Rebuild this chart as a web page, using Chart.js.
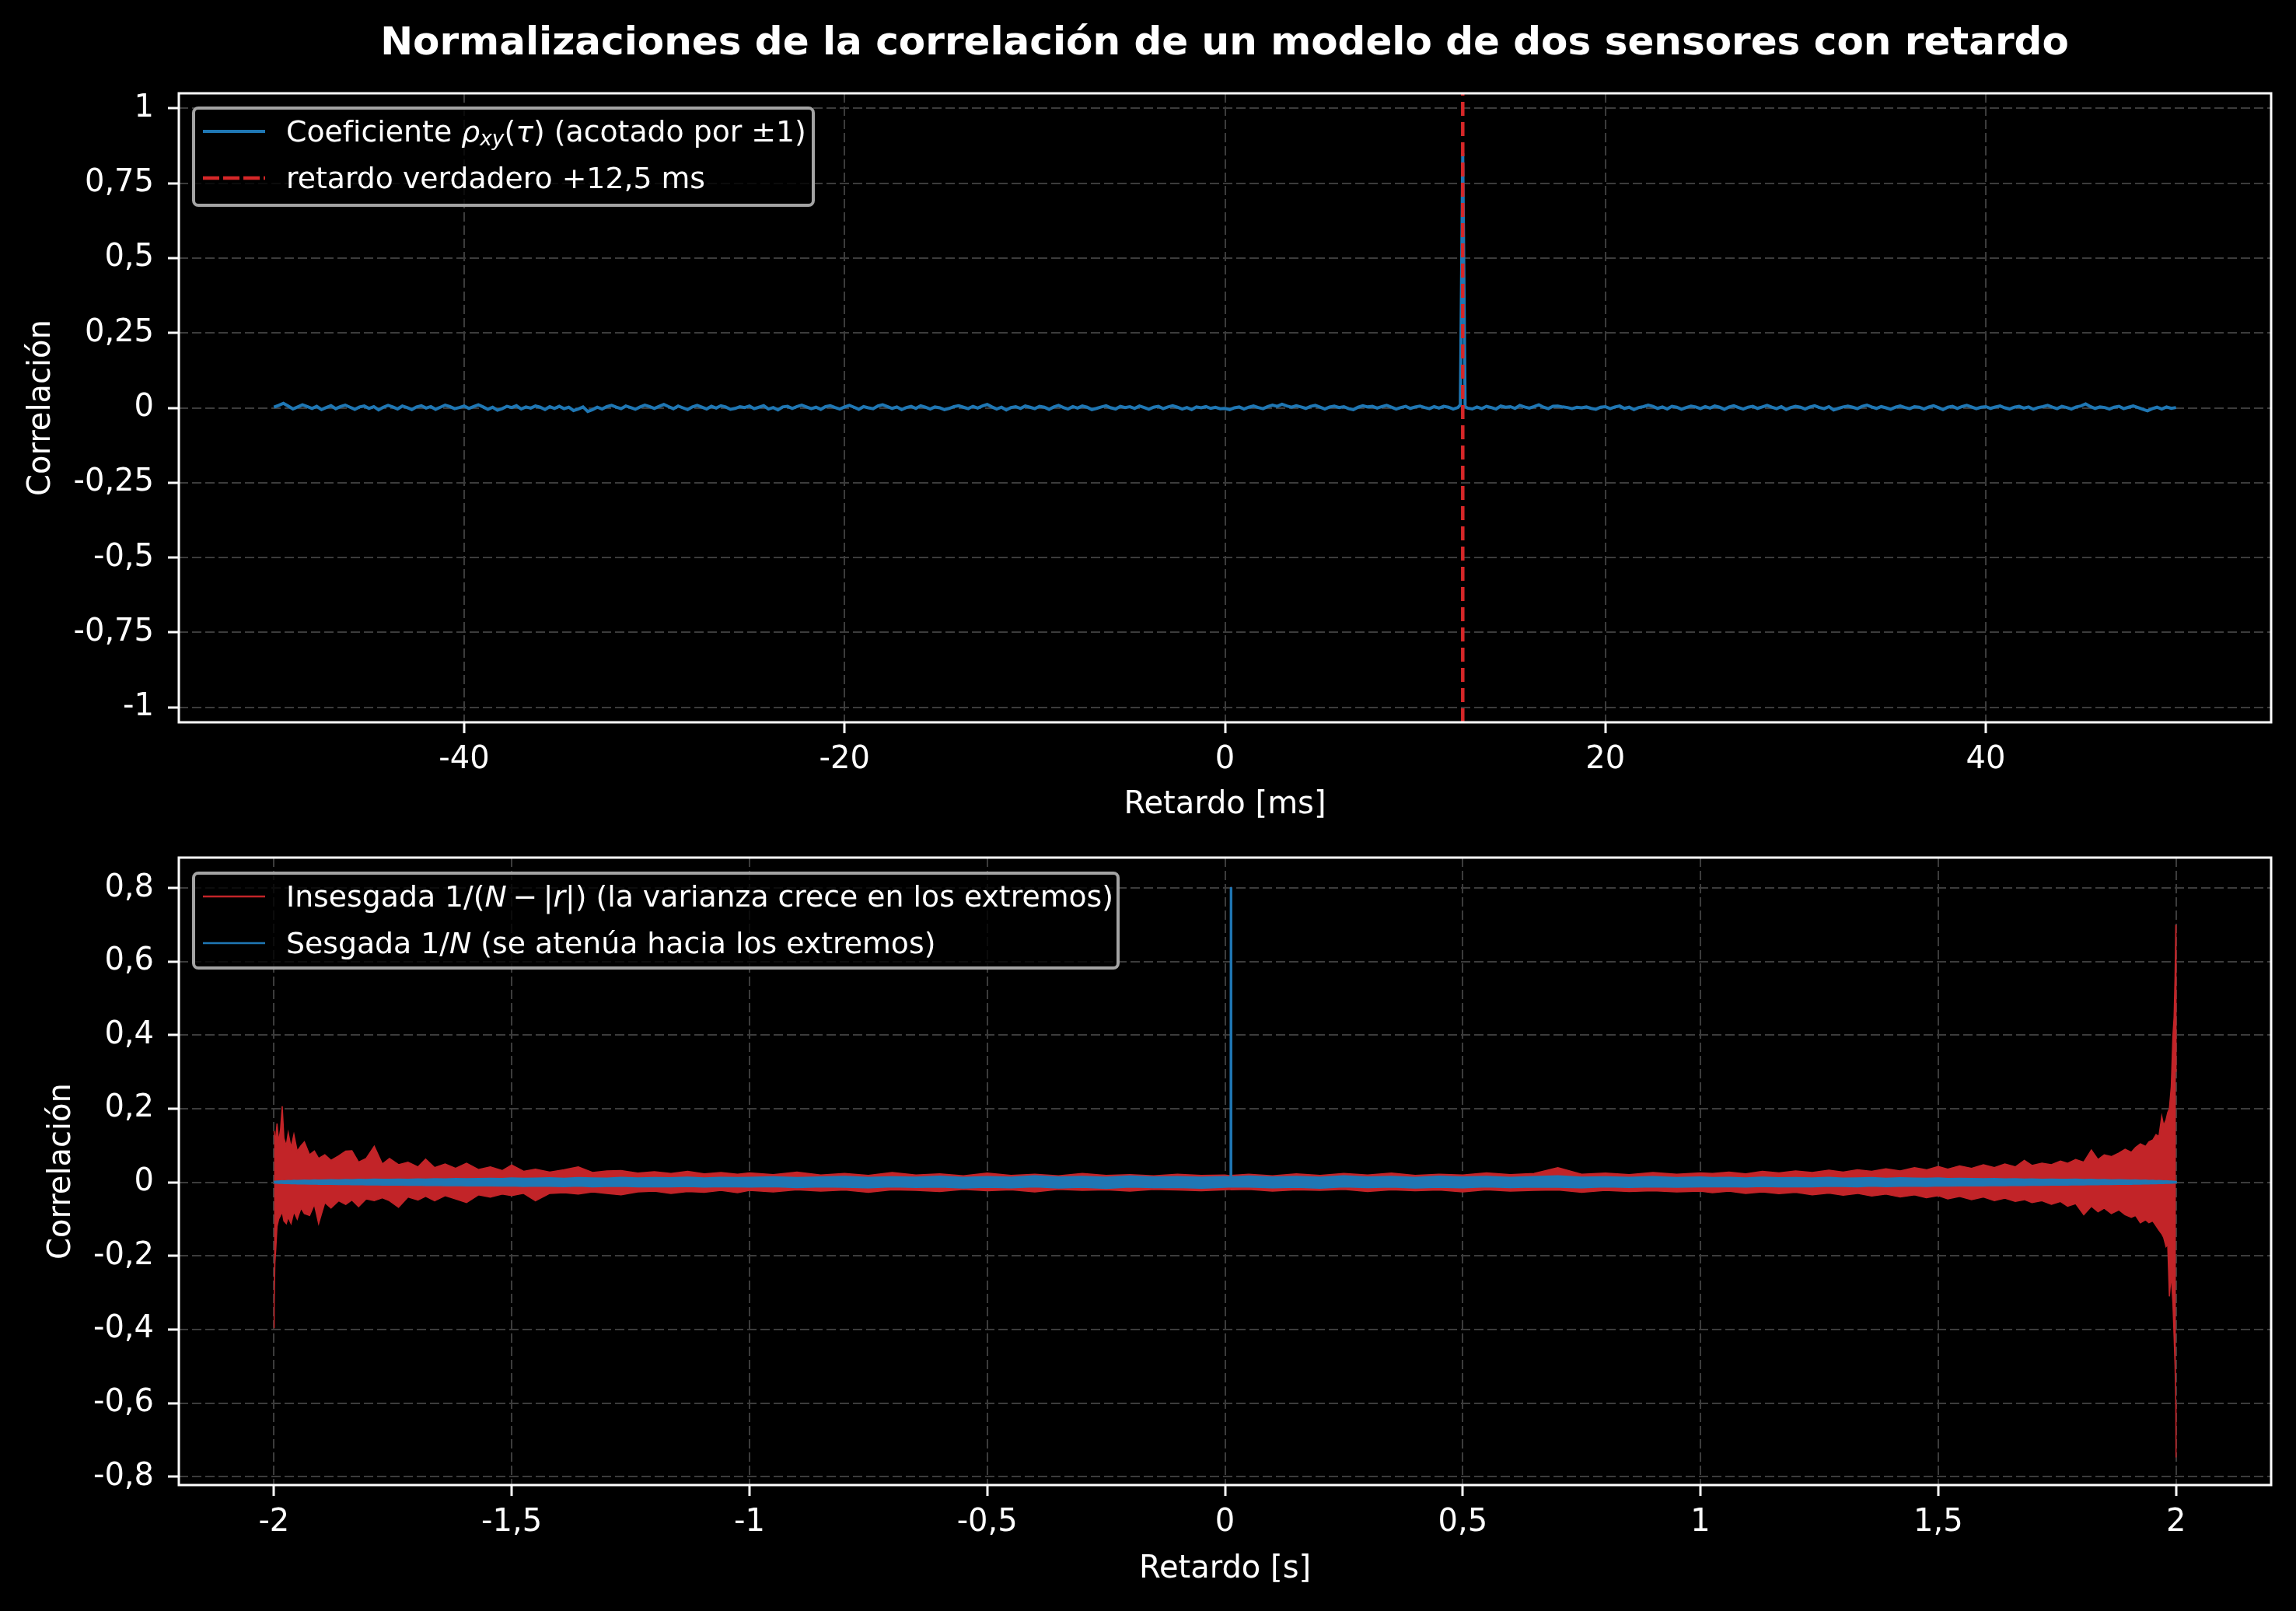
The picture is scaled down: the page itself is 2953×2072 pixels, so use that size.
<!DOCTYPE html>
<html lang="es">
<head>
<meta charset="utf-8">
<title>Normalizaciones de la correlación</title>
<script src="https://cdn.jsdelivr.net/npm/chart.js@4.4.1/dist/chart.umd.min.js"></script>
<style>
    html, body { margin: 0; padding: 0; background: #000; }
    body { position: relative; width: 2953px; height: 2072px; overflow: hidden; font-family: 'DejaVu Sans', sans-serif; color: #fff; }
    canvas { position: absolute; left: 0; }
    #topChart { top: 0; }
    #bottomChart { top: 1070px; }
    #title { position: absolute; left: 0; top: 22.7px; width: 3150px; line-height: 60px; font-size: 50px; font-weight: bold; text-align: center; white-space: nowrap; }
    .legend { position: absolute; box-sizing: border-box; border: 4px solid #a3a3a3; border-radius: 8px; background: rgba(0, 0, 0, 0.8); font-size: 37.8px; }
    .legend .row { position: absolute; left: 10px; height: 60px; display: flex; align-items: center; white-space: nowrap; }
    .legend svg { flex: none; margin-right: 27px; }
    .legend sub { font-size: 0.7em; vertical-align: baseline; position: relative; top: 0.2em; line-height: 0; }
    #topLegend { left: 247px; top: 137px; width: 801px; height: 129px; }
    #bottomLegend { left: 247px; top: 1121px; width: 1193px; height: 126px; }
</style>
</head>
<body>
<canvas id="topChart" width="2953" height="1070"></canvas>
<canvas id="bottomChart" width="2953" height="1002"></canvas>
<div id="title">Normalizaciones de la correlación de un modelo de dos sensores con retardo</div>
<div id="topLegend" class="legend"></div>
<div id="bottomLegend" class="legend"></div>
<script>
// ---- panel superior: coeficiente de correlación (ms) ----
const topLagStartMs = -50;
const topLagStepMs = 0.25;
const topCorr = [
    0.002, 0.008, 0.015, 0.006, -0.004, 0.003, 0.010, 0.004, -0.002, 0.005, -0.006, 0.001, 0.007, -0.003, 0.004, 0.009, 0.002, -0.005, 0.003, 0.006,
    -0.002, 0.004, -0.007, 0.002, 0.008, 0.003, -0.004, 0.006, 0.001, -0.006, 0.003, 0.007, -0.001, 0.004, -0.005, 0.002, 0.009, 0.004, -0.003, 0.001,
    0.006, -0.002, 0.004, 0.010, 0.003, -0.005, 0.002, -0.008, -0.003, 0.005, 0.001, 0.007, -0.004, 0.003, -0.001, 0.006, 0.002, -0.006, 0.004, -0.002,
    0.005, -0.003, 0.002, -0.009, -0.004, 0.003, -0.012, -0.006, 0.002, -0.004, 0.004, 0.008, 0.002, -0.003, 0.006, 0.001, -0.005, 0.003, 0.009, 0.004,
    -0.002, 0.005, 0.011, 0.004, -0.003, 0.006, 0.000, -0.006, 0.003, 0.008, 0.002, -0.004, 0.005, -0.001, 0.007, 0.003, -0.005, -0.002, 0.004, 0.001,
    0.006, -0.003, 0.002, 0.007, -0.004, 0.001, -0.007, 0.003, 0.005, -0.002, 0.004, 0.009, 0.003, -0.003, 0.002, -0.005, 0.004, 0.007, 0.001, -0.004,
    0.003, 0.008, 0.002, -0.005, 0.004, 0.000, -0.003, 0.006, 0.010, 0.004, -0.002, 0.003, -0.006, 0.001, 0.005, -0.002, 0.007, 0.002, -0.004, 0.003,
    0.000, -0.006, -0.002, 0.004, 0.007, 0.002, -0.003, 0.005, -0.001, 0.006, 0.011, 0.003, -0.004, 0.002, -0.007, 0.001, 0.004, -0.002, 0.006, 0.002,
    -0.003, 0.005, 0.002, -0.005, 0.003, 0.008, 0.001, -0.004, 0.004, -0.001, 0.006, 0.002, -0.006, -0.002, 0.003, 0.007, 0.000, -0.004, 0.005, 0.001,
    0.004, -0.002, 0.006, 0.001, -0.005, 0.002, 0.005, -0.003, 0.003, 0.007, 0.002, -0.004, 0.001, -0.006, 0.003, 0.000, 0.004, -0.002, 0.002, -0.003,
    -0.002, -0.006, 0.000, 0.003, -0.004, 0.002, 0.006, 0.001, -0.003, 0.004, 0.009, 0.005, 0.012, 0.006, 0.002, 0.007, 0.003, -0.002, 0.005, 0.008,
    0.002, -0.004, 0.003, 0.006, 0.001, 0.004, -0.003, -0.006, 0.002, 0.007, 0.003, 0.005, -0.001, 0.004, 0.008, 0.002, -0.004, 0.001, 0.005, -0.002,
    0.003, 0.006, 0.001, -0.003, 0.004, -0.001, 0.005, 0.002, -0.004, 0.001, 0.850, -0.001, -0.004, 0.003, -0.003, 0.005, 0.001, -0.004, 0.006, 0.002,
    0.004, -0.002, 0.008, 0.003, -0.001, 0.004, 0.010, 0.002, -0.003, 0.005, 0.006, 0.003, 0.001, -0.003, 0.002, 0.000, 0.003, -0.002, -0.005, 0.002,
    0.004, -0.003, 0.003, 0.006, -0.002, 0.002, -0.006, 0.001, 0.004, 0.009, 0.005, -0.002, 0.003, -0.004, 0.005, 0.002, -0.005, 0.001, 0.006, 0.003,
    -0.003, 0.004, -0.001, 0.006, 0.002, -0.005, 0.003, 0.007, 0.001, -0.004, 0.002, 0.005, -0.002, 0.003, 0.008, 0.002, -0.003, 0.004, -0.006, 0.001,
    0.005, 0.002, -0.004, 0.003, 0.007, 0.001, -0.003, 0.004, -0.007, -0.002, 0.003, 0.006, 0.002, -0.003, 0.005, 0.009, 0.003, -0.002, 0.004, 0.000,
    -0.005, 0.002, 0.006, 0.001, -0.003, 0.004, 0.002, -0.004, 0.003, 0.007, 0.001, -0.006, 0.002, 0.005, -0.002, 0.004, 0.008, 0.003, -0.003, 0.002,
    0.004, -0.002, 0.003, 0.006, 0.000, -0.004, 0.002, 0.005, -0.001, 0.003, -0.005, 0.001, 0.004, 0.008, 0.002, -0.003, 0.005, 0.001, -0.004, 0.003,
    0.006, 0.013, 0.004, -0.002, 0.003, 0.001, -0.004, 0.002, 0.005, -0.003, 0.002, 0.006, 0.001, -0.005, -0.010, -0.003, 0.002, -0.004, 0.003, -0.002,
    0.001
];
// flancos del pico (muy estrecho)
const topShoulderLagMs = [12.375, 12.625];
const topShoulderCorr = [0.010, 0.004];
const trueDelayMs = 12.5;

const topXMin = -55, topXMax = 55;
const topYMin = -1.05, topYMax = 1.05;
const topXTicks = [-40, -20, 0, 20, 40];
const topYTicks = [-1, -0.75, -0.5, -0.25, 0, 0.25, 0.5, 0.75, 1];

// ---- panel inferior: envolventes de las estimaciones (s) ----
const bandLagS = [
    -2.000, -1.9995, -1.998, -1.996, -1.9935, -1.990, -1.986, -1.9826, -1.979, -1.974,
    -1.970, -1.964, -1.958, -1.951, -1.943, -1.936, -1.925, -1.915, -1.906, -1.893,
    -1.880, -1.864, -1.849, -1.836, -1.822, -1.806, -1.789, -1.772, -1.757, -1.738,
    -1.718, -1.697, -1.681, -1.662, -1.640, -1.618, -1.595, -1.570, -1.545, -1.520,
    -1.500, -1.475, -1.450, -1.420, -1.390, -1.360, -1.330, -1.300, -1.270, -1.235,
    -1.200, -1.165, -1.130, -1.095, -1.060, -1.025,
    -1.00, -0.95, -0.90, -0.85, -0.80, -0.75, -0.70, -0.65, -0.60, -0.55,
    -0.50, -0.45, -0.40, -0.35, -0.30, -0.25, -0.20, -0.15, -0.10, -0.05,
    0.00, 0.012, 0.0125, 0.013,
    0.05, 0.10, 0.15, 0.20, 0.25, 0.30, 0.35, 0.40, 0.45, 0.50,
    0.55, 0.60, 0.65, 0.70, 0.75, 0.80, 0.85, 0.90, 0.95, 1.00,
    1.025, 1.060, 1.095, 1.130, 1.165, 1.200, 1.235, 1.270, 1.300, 1.330,
    1.360, 1.390, 1.420, 1.450, 1.475, 1.500, 1.520, 1.545, 1.570, 1.595,
    1.618, 1.640, 1.662, 1.681, 1.697, 1.718, 1.738, 1.757, 1.772, 1.789,
    1.806, 1.822, 1.836, 1.849, 1.864, 1.880, 1.893, 1.906, 1.915, 1.925,
    1.936, 1.943, 1.951, 1.958, 1.964, 1.970, 1.974, 1.979, 1.9826, 1.986,
    1.990, 1.9935, 1.996, 1.998, 1.9995, 2.000
];

// insesgada 1/(N-|r|): máximos y mínimos locales
const unbiasedUpper = [
    0.135, 0.140, 0.120, 0.125, 0.160, 0.110, 0.145, 0.207, 0.120, 0.100,
    0.135, 0.095, 0.130, 0.085, 0.100, 0.110, 0.075, 0.085, 0.065, 0.075,
    0.060, 0.072, 0.085, 0.086, 0.055, 0.065, 0.098, 0.050, 0.065, 0.048,
    0.055, 0.042, 0.063, 0.040, 0.050, 0.038, 0.052, 0.035, 0.042, 0.032,
    0.047, 0.030, 0.036, 0.028, 0.034, 0.042, 0.027, 0.031, 0.032, 0.025,
    0.029, 0.024, 0.030, 0.023, 0.027, 0.022,
    0.026, 0.021, 0.028, 0.020, 0.024, 0.019, 0.027, 0.020, 0.023, 0.018,
    0.025, 0.019, 0.022, 0.018, 0.024, 0.019, 0.021, 0.018, 0.022, 0.019,
    0.020, 0.018, 0.803, 0.019,
    0.022, 0.018, 0.023, 0.019, 0.024, 0.020, 0.025, 0.019, 0.022, 0.020,
    0.026, 0.021, 0.024, 0.040, 0.022, 0.025, 0.021, 0.027, 0.022, 0.026,
    0.024, 0.028, 0.023, 0.030, 0.026, 0.031, 0.027, 0.033, 0.028, 0.034,
    0.030, 0.037, 0.031, 0.040, 0.034, 0.043, 0.036, 0.045, 0.038, 0.048,
    0.040, 0.050, 0.042, 0.060, 0.046, 0.052, 0.048, 0.058, 0.052, 0.062,
    0.055, 0.088, 0.062, 0.075, 0.070, 0.080, 0.090, 0.082, 0.095, 0.105,
    0.098, 0.110, 0.115, 0.130, 0.125, 0.180, 0.155, 0.170, 0.190, 0.200,
    0.260, 0.400, 0.450, 0.560, 0.700, 0.300
];
const unbiasedLower = [
    -0.395, -0.330, -0.220, -0.180, -0.120, -0.100, -0.090, -0.080, -0.105, -0.112,
    -0.095, -0.112, -0.080, -0.100, -0.070, -0.085, -0.090, -0.060, -0.112, -0.055,
    -0.070, -0.050, -0.060, -0.048, -0.066, -0.045, -0.050, -0.042, -0.050, -0.068,
    -0.040, -0.048, -0.038, -0.050, -0.036, -0.045, -0.055, -0.034, -0.040, -0.032,
    -0.036, -0.030, -0.050, -0.030, -0.028, -0.032, -0.026, -0.030, -0.034, -0.026,
    -0.024, -0.030, -0.025, -0.027, -0.022, -0.028,
    -0.022, -0.026, -0.020, -0.024, -0.021, -0.027, -0.020, -0.022, -0.025, -0.019,
    -0.023, -0.020, -0.026, -0.019, -0.022, -0.020, -0.024, -0.019, -0.021, -0.023,
    -0.020, -0.019, -0.010, -0.020,
    -0.019, -0.024, -0.020, -0.022, -0.019, -0.025, -0.020, -0.023, -0.021, -0.026,
    -0.020, -0.024, -0.022, -0.021, -0.027, -0.022, -0.025, -0.023, -0.026, -0.024,
    -0.028, -0.024, -0.030, -0.026, -0.031, -0.027, -0.034, -0.029, -0.035, -0.030,
    -0.037, -0.032, -0.040, -0.034, -0.042, -0.036, -0.045, -0.038, -0.047, -0.040,
    -0.050, -0.043, -0.052, -0.047, -0.055, -0.050, -0.060, -0.052, -0.065, -0.058,
    -0.088, -0.065, -0.080, -0.070, -0.085, -0.075, -0.088, -0.095, -0.090, -0.110,
    -0.102, -0.110, -0.105, -0.118, -0.130, -0.140, -0.150, -0.175, -0.170, -0.310,
    -0.250, -0.330, -0.420, -0.500, -0.600, -0.748
];

// sesgada 1/N: máximos y mínimos locales
const biasedUpper = [
    0.001, 0.001, 0.0015, 0.0015, 0.002, 0.002, 0.0025, 0.003, 0.0025, 0.003,
    0.0035, 0.003, 0.004, 0.0035, 0.004, 0.0045, 0.004, 0.005, 0.0045, 0.005,
    0.0055, 0.005, 0.006, 0.0055, 0.0065, 0.006, 0.0075, 0.0065, 0.007, 0.0075,
    0.007, 0.008, 0.0075, 0.0085, 0.008, 0.009, 0.0085, 0.009, 0.0095, 0.009,
    0.0105, 0.0095, 0.010, 0.011, 0.0095, 0.0115, 0.0105, 0.010, 0.012, 0.0105,
    0.0115, 0.011, 0.0125, 0.0105, 0.012, 0.0115,
    0.012, 0.0135, 0.0115, 0.013, 0.0145, 0.012, 0.0135, 0.0125, 0.015, 0.012,
    0.014, 0.0125, 0.016, 0.013, 0.0145, 0.0125, 0.0155, 0.013, 0.014, 0.0125,
    0.014, 0.013, 0.800, 0.0135,
    0.0155, 0.013, 0.0145, 0.0125, 0.016, 0.013, 0.0145, 0.012, 0.015, 0.013,
    0.0145, 0.012, 0.014, 0.0165, 0.0125, 0.0135, 0.012, 0.014, 0.0115, 0.013,
    0.0115, 0.012, 0.0105, 0.0125, 0.011, 0.0115, 0.0105, 0.012, 0.010, 0.0105,
    0.0115, 0.0095, 0.011, 0.010, 0.0095, 0.0105, 0.009, 0.0095, 0.009, 0.0085,
    0.009, 0.008, 0.0085, 0.0075, 0.008, 0.007, 0.0075, 0.007, 0.0065, 0.0075,
    0.006, 0.0065, 0.0055, 0.006, 0.005, 0.0055, 0.005, 0.0045, 0.005, 0.004,
    0.0045, 0.0035, 0.004, 0.003, 0.0035, 0.003, 0.0025, 0.003, 0.0025, 0.002,
    0.002, 0.0015, 0.0015, 0.001, 0.001, 0.0005
];
const biasedLower = [
    -0.001, -0.001, -0.001, -0.0015, -0.0015, -0.002, -0.002, -0.0025, -0.003, -0.0025,
    -0.003, -0.0035, -0.003, -0.004, -0.0035, -0.004, -0.0045, -0.004, -0.005, -0.0045,
    -0.005, -0.0055, -0.005, -0.006, -0.0055, -0.0065, -0.006, -0.007, -0.0065, -0.007,
    -0.0075, -0.007, -0.008, -0.0075, -0.0085, -0.008, -0.009, -0.0085, -0.009, -0.0095,
    -0.009, -0.0105, -0.0095, -0.010, -0.011, -0.0095, -0.0115, -0.0105, -0.010, -0.0115,
    -0.011, -0.012, -0.0105, -0.0125, -0.011, -0.012,
    -0.0125, -0.011, -0.014, -0.012, -0.013, -0.0145, -0.012, -0.0135, -0.0125, -0.015,
    -0.013, -0.0145, -0.012, -0.015, -0.013, -0.016, -0.0125, -0.014, -0.0135, -0.0155,
    -0.013, -0.012, -0.008, -0.0125,
    -0.0125, -0.0145, -0.013, -0.0155, -0.012, -0.014, -0.0125, -0.015, -0.013, -0.0145,
    -0.012, -0.014, -0.0125, -0.013, -0.0145, -0.012, -0.0135, -0.0115, -0.013, -0.012,
    -0.012, -0.011, -0.0125, -0.0105, -0.012, -0.011, -0.0115, -0.010, -0.0105, -0.0115,
    -0.0095, -0.011, -0.010, -0.0095, -0.0105, -0.009, -0.0095, -0.009, -0.0085, -0.009,
    -0.008, -0.0085, -0.0075, -0.008, -0.007, -0.0075, -0.007, -0.0065, -0.007, -0.006,
    -0.0065, -0.0055, -0.006, -0.005, -0.0055, -0.005, -0.0045, -0.005, -0.004, -0.0045,
    -0.0035, -0.004, -0.003, -0.0035, -0.003, -0.0025, -0.003, -0.0025, -0.002, -0.002,
    -0.0015, -0.0015, -0.001, -0.001, -0.0005, -0.0005
];

const bottomXMin = -2.2, bottomXMax = 2.2;
const bottomYMin = -0.823, bottomYMax = 0.883;
const bottomXTicks = [-2, -1.5, -1, -0.5, 0, 0.5, 1, 1.5, 2];
const bottomYTicks = [-0.8, -0.6, -0.4, -0.2, 0, 0.2, 0.4, 0.6, 0.8];

const BLUE = '#1f77b4';
const RED = '#d62728';
const RED_BAND = '#c22428';
const GRID = '#3c3c3c';

Chart.defaults.font.family = "'DejaVu Sans', sans-serif";
Chart.defaults.font.size = 40;
Chart.defaults.color = '#ffffff';

// números con coma decimal
const fmt = v => String(v).replace('.', ',');

const toPoints = (xs, ys) => xs.map((x, i) => ({ x: x, y: ys[i] }));

// marco completo del área de ejes (los cuatro bordes)
const framePlugin = {
    id: 'frame',
    afterDatasetsDraw(chart) {
        const { ctx, chartArea: a } = chart;
        ctx.save();
        ctx.strokeStyle = '#ffffff';
        ctx.lineWidth = 3;
        ctx.strokeRect(a.left, a.top, a.right - a.left, a.bottom - a.top);
        ctx.restore();
    }
};

// tamaño fijo de cada eje, sin el margen extra que Chart.js reserva para las etiquetas
function fixedSize(prop, size) {
    return s => {
        s[prop] = size;
        s.paddingTop = 0;
        s.paddingBottom = 0;
        s.paddingLeft = 0;
        s.paddingRight = 0;
    };
}

function axis(min, max, ticks, title, opts) {
    return {
        type: 'linear',
        min: min,
        max: max,
        afterBuildTicks: s => { s.ticks = ticks.map(v => ({ value: v })); },
        afterFit: opts.fit,
        ticks: { callback: v => fmt(v), padding: opts.tickPadding, color: '#ffffff', font: { size: 40 } },
        grid: { color: GRID, lineWidth: 2, tickLength: 14, tickWidth: 3, tickColor: '#ffffff' },
        border: { display: false, dash: [12, 5] },
        title: { display: true, text: title, color: '#ffffff', font: { size: 40 }, padding: opts.titlePadding }
    };
}

function buildLegend(chart, el) {
    el.innerHTML = chart.data.datasets
        .filter(ds => ds.labelHtml)
        .map((ds, i) => {
            const dash = (ds.legendDash || []).join(' ');
            return '<div class="row" style="top:' + (-2 + i * 60) + 'px">' +
                '<svg width="80" height="12"><line x1="0" y1="6" x2="80" y2="6" stroke="' + ds.borderColor +
                '" stroke-width="' + (ds.legendWidth || ds.borderWidth) + '" stroke-dasharray="' + dash + '"/></svg>' +
                '<span>' + ds.labelHtml + '</span></div>';
        }).join('');
}

// panel superior
const topPoints = toPoints(topCorr.map((_, i) => topLagStartMs + i * topLagStepMs), topCorr)
    .concat(toPoints(topShoulderLagMs, topShoulderCorr))
    .sort((a, b) => a.x - b.x);

const topChart = new Chart(document.getElementById('topChart'), {
    type: 'line',
    data: {
        datasets: [
            {
                label: 'Coeficiente rho_xy(tau) (acotado por ±1)',
                labelHtml: 'Coeficiente <i>ρ</i><sub><i>xy</i></sub>(<i>τ</i>) (acotado por ±1)',
                data: topPoints,
                borderColor: BLUE,
                borderWidth: 4,
                pointRadius: 0,
                tension: 0,
                order: 2
            },
            {
                label: 'retardo verdadero +12,5 ms',
                labelHtml: 'retardo verdadero +12,5 ms',
                data: [{ x: trueDelayMs, y: topYMin }, { x: trueDelayMs, y: topYMax }],
                borderColor: RED,
                borderWidth: 4.5,
                borderDash: [18, 8],
                legendDash: [21, 5],
                pointRadius: 0,
                order: 1
            }
        ]
    },
    options: {
        responsive: false,
        animation: false,
        devicePixelRatio: 1,
        layout: { padding: { top: 120, right: 32, bottom: 0, left: 0 } },
        plugins: { legend: { display: false }, tooltip: { enabled: false } },
        scales: {
            x: axis(topXMin, topXMax, topXTicks, 'Retardo [ms]', {
                fit: fixedSize('height', 141), tickPadding: 11, titlePadding: { top: 0, bottom: 10 }
            }),
            y: axis(topYMin, topYMax, topYTicks, 'Correlación', {
                fit: fixedSize('width', 230), tickPadding: 18, titlePadding: { top: 30, bottom: 0 }
            })
        }
    },
    plugins: [framePlugin]
});

// panel inferior
const bottomChart = new Chart(document.getElementById('bottomChart'), {
    type: 'line',
    data: {
        datasets: [
            {
                label: 'Insesgada 1/(N-|r|) (la varianza crece en los extremos)',
                labelHtml: 'Insesgada 1/(<i>N</i>&thinsp;−&thinsp;|<i>r</i>|) (la varianza crece en los extremos)',
                data: toPoints(bandLagS, unbiasedUpper),
                borderColor: RED_BAND,
                backgroundColor: RED_BAND,
                borderWidth: 1.5,
                legendWidth: 2.5,
                fill: '+1',
                pointRadius: 0,
                tension: 0,
                order: 2
            },
            {
                label: 'Insesgada (mínimos)',
                data: toPoints(bandLagS, unbiasedLower),
                borderColor: RED_BAND,
                backgroundColor: RED_BAND,
                borderWidth: 1.5,
                fill: false,
                pointRadius: 0,
                tension: 0,
                order: 2
            },
            {
                label: 'Sesgada 1/N (se atenúa hacia los extremos)',
                labelHtml: 'Sesgada 1/<i>N</i> (se atenúa hacia los extremos)',
                data: toPoints(bandLagS, biasedUpper),
                borderColor: BLUE,
                backgroundColor: BLUE,
                borderWidth: 3,
                legendWidth: 2.5,
                borderJoinStyle: 'round',
                fill: '+1',
                pointRadius: 0,
                tension: 0,
                order: 1
            },
            {
                label: 'Sesgada (mínimos)',
                data: toPoints(bandLagS, biasedLower),
                borderColor: BLUE,
                backgroundColor: BLUE,
                borderWidth: 2,
                fill: false,
                pointRadius: 0,
                tension: 0,
                order: 1
            }
        ]
    },
    options: {
        responsive: false,
        animation: false,
        devicePixelRatio: 1,
        layout: { padding: { top: 33, right: 32, bottom: 0, left: 0 } },
        plugins: { legend: { display: false }, tooltip: { enabled: false } },
        scales: {
            x: axis(bottomXMin, bottomXMax, bottomXTicks, 'Retardo [s]', {
                fit: fixedSize('height', 162), tickPadding: 11, titlePadding: { top: 0, bottom: 29 }
            }),
            y: axis(bottomYMin, bottomYMax, bottomYTicks, 'Correlación', {
                fit: fixedSize('width', 230), tickPadding: 18, titlePadding: { top: 56, bottom: 0 }
            })
        }
    },
    plugins: [framePlugin]
});

buildLegend(topChart, document.getElementById('topLegend'));
buildLegend(bottomChart, document.getElementById('bottomLegend'));
</script>
</body>
</html>
